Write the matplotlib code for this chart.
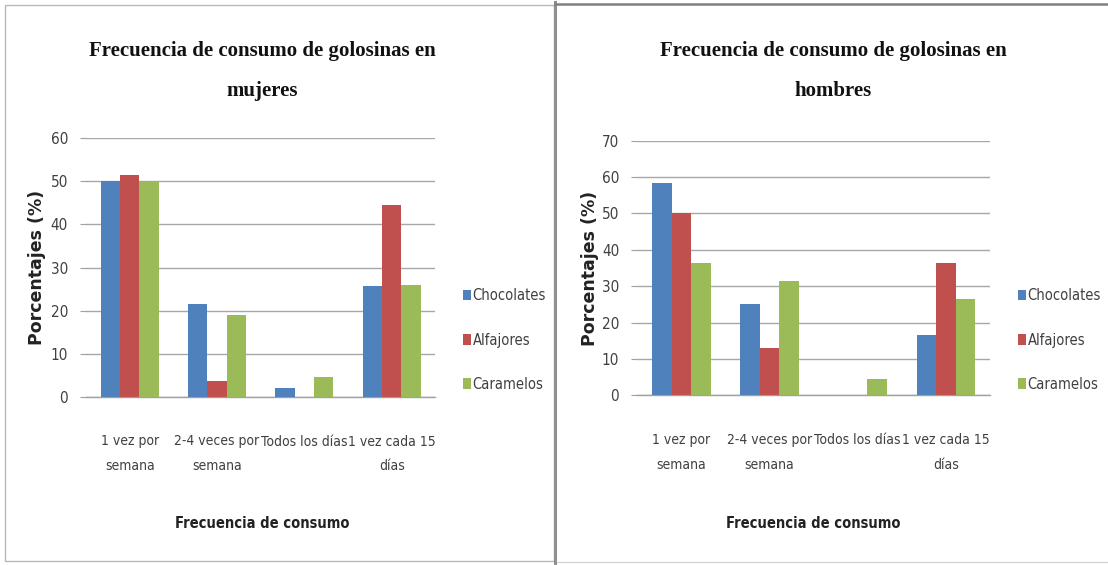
import matplotlib
matplotlib.use("Agg")
import matplotlib.pyplot as plt
from matplotlib.patches import Rectangle
from matplotlib.lines import Line2D
from matplotlib import font_manager as fm
import numpy as np

categories = ["1 vez por\nsemana", "2-4 veces por\nsemana", "Todos los días", "1 vez cada 15\ndías"]
series_names = ["Chocolates", "Alfajores", "Caramelos"]

mujeres_chocolates = [50.0, 21.5, 2.1, 25.8]
mujeres_alfajores = [51.4, 3.6, 0.0, 44.4]
mujeres_caramelos = [50.0, 18.9, 4.6, 26.0]

hombres_chocolates = [58.3, 25.0, 0.0, 16.7]
hombres_alfajores = [50.0, 13.0, 0.0, 36.4]
hombres_caramelos = [36.4, 31.3, 4.5, 26.5]

titles = ["Frecuencia de consumo de golosinas en\nmujeres",
          "Frecuencia de consumo de golosinas en\nhombres"]
y_max = [60, 70]

colors = ["#4F81BD", "#C0504D", "#9BBB59"]
txt_color = "#404040"

# pick a condensed sans font if one is installed
cond_path = fm.findfont(fm.FontProperties(family="DejaVu Sans", stretch="condensed"))
if "ondensed" in cond_path:
    NARROW = dict(family="DejaVu Sans", stretch="condensed")
else:
    NARROW = dict(family="Liberation Sans", stretch="normal")
nsize = 10

W, H = 1108, 565
fig = plt.figure(figsize=(W / 100, H / 100), dpi=100)
fig.patch.set_facecolor("white")

def fx(px):
    return px / W

def fy(py):
    return 1 - py / H

# panel frames
fig.add_artist(Rectangle((fx(5), fy(561)), fx(549), 556 / H, transform=fig.transFigure,
                         fill=False, edgecolor="#b8b8b8", linewidth=1.0))
fig.add_artist(Line2D([fx(555), fx(555)], [fy(2), fy(565)], transform=fig.transFigure,
                      color="#909090", linewidth=2.2))
fig.add_artist(Line2D([fx(555), fx(1108)], [fy(4), fy(4)], transform=fig.transFigure,
                      color="#808080", linewidth=1.8))
fig.add_artist(Line2D([fx(557), fx(1108)], [fy(562), fy(562)], transform=fig.transFigure,
                      color="#d0d0d0", linewidth=0.8))

panels = [
    dict(ax=[86, 435.4, 138, 397], data=[mujeres_chocolates, mujeres_alfajores, mujeres_caramelos],
         title_x=262, ylab_x=37, xlab_x=262, leg_x=457),
    dict(ax=[637.2, 989.9, 140.7, 395.3], data=[hombres_chocolates, hombres_alfajores, hombres_caramelos],
         title_x=833, ylab_x=590, xlab_x=813, leg_x=1012),
]

x = np.arange(len(categories))
bw = 0.221

for i, p in enumerate(panels):
    l, r, t, b = p["ax"]
    ax = fig.add_axes([fx(l), fy(b), fx(r - l), (b - t) / H])
    for j, (name, vals) in enumerate(zip(series_names, p["data"])):
        ax.bar(x + (j - 1) * bw, vals, width=bw, color=colors[j], label=name, zorder=3)
    ax.set_xlim(-0.5, len(categories) - 0.5)
    ax.set_ylim(0, y_max[i])
    ax.set_yticks(np.arange(0, y_max[i] + 1, 10))
    ax.grid(axis="y", color="#a8a8a8", linewidth=1.0, zorder=0)
    for s in ["top", "right", "left"]:
        ax.spines[s].set_visible(False)
    ax.spines["bottom"].set_color("#a0a0a0")
    ax.spines["bottom"].set_linewidth(1.0)
    ax.tick_params(axis="y", length=4, color="#a0a0a0", pad=9, labelsize=nsize + 1, labelcolor=txt_color)
    ax.tick_params(axis="x", length=0, pad=27, labelsize=nsize, labelcolor=txt_color)
    ax.set_xticks(x)
    ax.set_xticklabels(categories, linespacing=2.0, **NARROW)
    for lab in ax.get_yticklabels():
        lab.set_family(NARROW["family"])
        lab.set_stretch(NARROW["stretch"])
    fig.text(fx(p["title_x"]), fy(71), titles[i], ha="center", va="center",
             family="Liberation Serif", weight="bold", fontsize=15, linespacing=2.35,
             color="#111111")
    fig.text(fx(p["ylab_x"]), (fy(t) + fy(b)) / 2, "Porcentajes (%)", rotation=90,
             ha="center", va="center", weight="bold", fontsize=12.5, color="#222222",
             family="DejaVu Sans")
    fig.text(fx(p["xlab_x"]), fy(523), "Frecuencia de consumo", ha="center", va="center",
             weight="bold", fontsize=nsize + 0.5, color="#222222", **NARROW)
    ax.legend(loc="center left", bbox_to_anchor=(fx(p["leg_x"]), fy(340)),
              bbox_transform=fig.transFigure, frameon=False,
              prop=dict(size=nsize + 0.5, **NARROW),
              handlelength=0.55, handleheight=0.7, handletextpad=0.12, labelspacing=2.0,
              labelcolor=txt_color, borderaxespad=0)

fig.savefig("out.png", dpi=100, facecolor="white")
